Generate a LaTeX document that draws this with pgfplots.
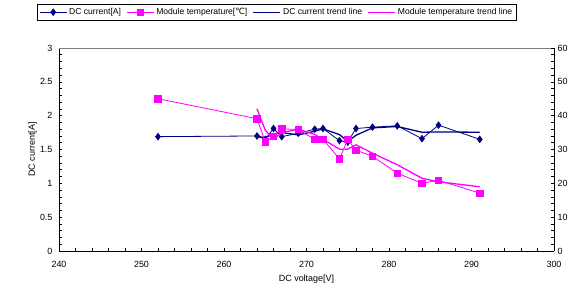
\documentclass[border=0pt]{standalone}
\usepackage{pgfplots}
\pgfplotsset{compat=1.18}
\usepackage{fontspec}
\setmainfont{Liberation Sans}
\newfontfamily\dejavu{DejaVu Sans}
\definecolor{navyc}{RGB}{0,0,128}
\definecolor{magc}{RGB}{255,0,255}
\begin{document}
\begin{tikzpicture}
\pgfplotsset{
  common/.style={
    width=495bp, height=203bp, scale only axis,
    xmin=240, xmax=300,
    font=\fontsize{9}{10}\selectfont,
    /pgf/number format/assume math mode=true,
    tick align=inside,
    major tick length=3bp, minor tick length=3bp,
    tick style={black, line width=0.6bp},
    axis line style={black, line width=0.8bp},
  },
  legend image code/.code={\draw[#1, mark repeat=2, mark phase=2] plot coordinates {(0bp,0bp) (13.5bp,0bp) (27bp,0bp)};},
}
\begin{axis}[common,
  axis x line*=bottom, axis y line*=left,
  ymin=0, ymax=3,
  xtick={240,250,...,300}, minor x tick num=4,
  ytick={0,0.5,...,3}, minor y tick num=4,
  yticklabel style={/pgf/number format/fixed, xshift=-3bp},
  xticklabel style={yshift=-7bp},
  xlabel={DC voltage[V]},
  xlabel style={at={(axis description cs:0.5,-0.1379)}, anchor=center},
  ylabel={DC current[A]},
  ylabel style={at={(axis description cs:-0.0535,0.5)}, anchor=center},
  legend columns=-1,
  legend style={at={(-0.0444,1.2167)}, anchor=north west, draw=black, line width=0.6bp,
    font=\fontsize{8.6}{10}\selectfont, inner sep=2bp,
    /tikz/every even column/.append style={column sep=3.5bp}},
  legend cell align=left,
]
\draw[gray, line width=0.8bp] (rel axis cs:0,1) -- (rel axis cs:1,1);
\addplot[navyc, line width=0.8bp, mark=diamond*, mark size=3.2bp, mark options={fill=navyc, draw=navyc, solid}] coordinates {
(252,1.69) (264,1.70) (265,1.65) (266,1.81) (267,1.69) (269,1.74) (271,1.80) (272,1.81)
(274,1.63) (275,1.61) (276,1.81) (278,1.83) (281,1.85) (284,1.66) (286,1.86) (291,1.65)};
\addlegendentry{DC current[A]}
\addlegendimage{magc, line width=0.8bp, mark=square*, mark size=3.2bp, mark options={fill=magc, draw=magc}}
\addlegendentry{Module temperature[{\dejavu ℃}]}
\addplot[navyc, line width=1.3bp] coordinates {
(264,1.695) (265,1.675) (266,1.73) (267,1.75) (269,1.715) (271,1.77) (272,1.805)
(274,1.72) (275,1.62) (276,1.71) (278,1.82) (281,1.84) (284,1.755) (286,1.76) (291,1.755)};
\addlegendentry{DC current trend line}
\addlegendimage{magc, line width=1.3bp}
\addlegendentry{Module temperature trend line}
\end{axis}
\begin{axis}[common,
  axis y line*=right, axis x line=none,
  ymin=0, ymax=60,
  ytick={0,10,...,60}, minor y tick num=4,
  ylabel={Module temperature[{\dejavu ℃}]},
  ylabel style={at={(axis description cs:1.0465,0.5)}, anchor=north, inner sep=0pt},
]
\addplot[magc, line width=0.8bp, mark=square*, mark size=3.2bp, mark options={fill=magc, draw=magc}] coordinates {
(252,45) (264,39.1) (265,32.3) (266,33.8) (267,36.1) (269,35.9) (271,33) (272,33)
(274,27.2) (275,33) (276,29.8) (278,28) (281,23) (284,20) (286,20.9) (291,17.1)};
\addplot[magc, line width=1.3bp] coordinates {
(264,42.05) (265,35.7) (266,33.05) (267,34.95) (269,36) (271,34.45) (272,33)
(274,30.1) (275,30.1) (276,31.4) (278,28.9) (281,25.5) (284,21.5) (286,20.45) (291,19)};
\end{axis}
\pgfresetboundingbox
\useasboundingbox (-59bp,-36bp) rectangle (518bp,251bp);
\end{tikzpicture}
\end{document}
